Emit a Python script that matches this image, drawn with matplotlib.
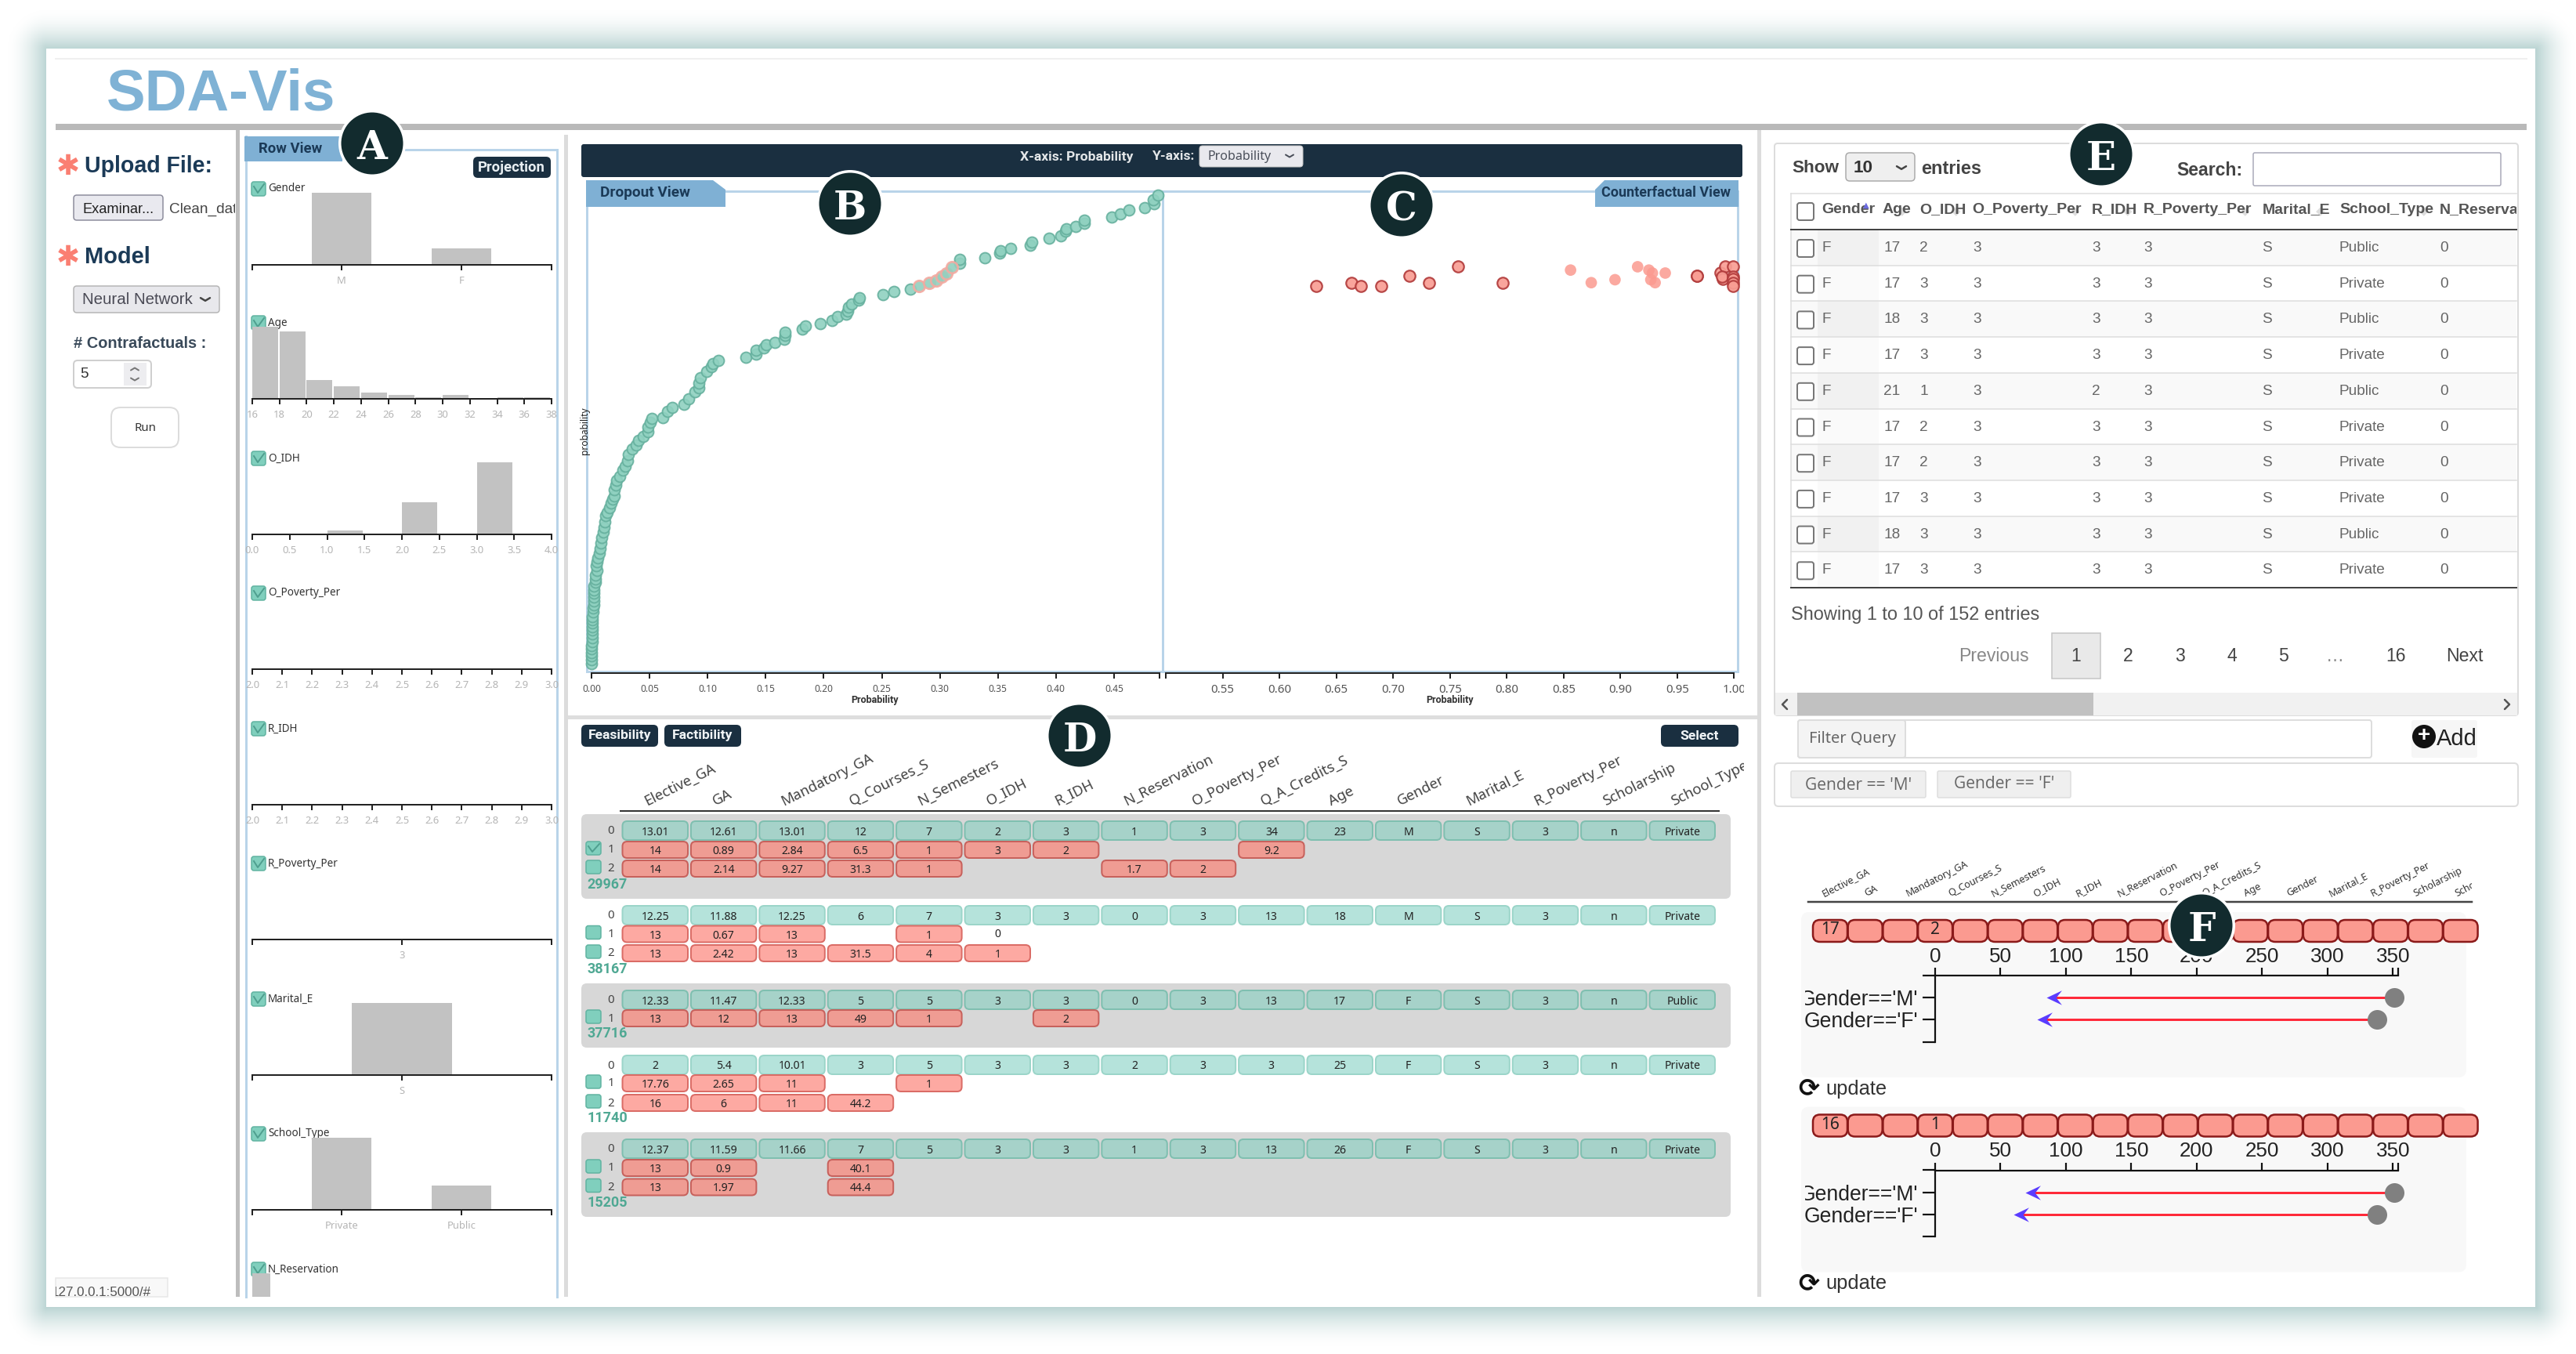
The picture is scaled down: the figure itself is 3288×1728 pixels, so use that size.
import numpy as np
import matplotlib
matplotlib.use("Agg")
import matplotlib.pyplot as plt
from matplotlib.patches import FancyBboxPatch, Circle, Polygon
from matplotlib.path import Path
from matplotlib.transforms import Bbox

# ------------------------------------------------------------ data
gender_labels = ["M", "F"]
gender_counts = [124, 28]
age_edges = [16, 18, 20, 22, 24, 26, 28, 30, 32, 34, 36]
age_counts = [58, 54, 15, 10, 5, 3, 1, 3, 0, 1, 1]
age_ticks = [16, 18, 20, 22, 24, 26, 28, 30, 32, 34, 36, 38]
oidh_edges = [0.0, 0.5, 1.0, 1.5, 2.0, 2.5, 3.0, 3.5]
oidh_counts = [0, 0, 6, 0, 45, 0, 101, 0]
oidh_ticks = [0.0, 0.5, 1.0, 1.5, 2.0, 2.5, 3.0, 3.5, 4.0]
tenth_ticks = [2.0, 2.1, 2.2, 2.3, 2.4, 2.5, 2.6, 2.7, 2.8, 2.9, 3.0]
opoverty_counts = [0, 0, 0, 0, 0, 0, 0, 0, 0, 0]
ridh_counts = [2, 0, 0, 0, 0, 0, 0, 0, 0, 0]
ridh_total = 152
rpoverty_labels = ["3"]
rpoverty_counts = [0]
marital_labels = ["S"]
marital_counts = [152]
school_labels = ["Private", "Public"]
school_counts = [111, 37]
nres_counts = [118]

dropout_x = [0.000, 0.000, 0.000, 0.000, 0.000, 0.000, 0.0007, 0.0007, 0.0007, 0.0007, 0.0007, 0.0007, 0.0007, 0.0007,
             0.0013, 0.0013, 0.0017, 0.0017, 0.0017, 0.002, 0.002, 0.002, 0.0034, 0.0034, 0.0034, 0.0044, 0.004, 0.0044,
             0.0054, 0.0067, 0.0074, 0.0081, 0.0091, 0.0104, 0.0111, 0.0117, 0.0124, 0.0134, 0.0154, 0.0168, 0.0181,
             0.0195, 0.0195, 0.0208, 0.0218, 0.0242, 0.0268, 0.0289, 0.0309, 0.0319, 0.0352, 0.0386, 0.0403, 0.0446,
             0.0487, 0.0487, 0.0503, 0.0517, 0.0611, 0.0654, 0.0695, 0.0799, 0.0839, 0.0893, 0.0923, 0.0923, 0.094,
             0.099, 0.1034, 0.1047, 0.1091, 0.1326, 0.1416, 0.1416, 0.1487, 0.1503, 0.1577, 0.1661, 0.1668, 0.1668,
             0.1812, 0.1839, 0.197, 0.207, 0.2117, 0.2191, 0.2208, 0.2215, 0.2242, 0.2299, 0.2309, 0.2507, 0.2604,
             0.2745, 0.2819, 0.2909, 0.297, 0.3013, 0.3054, 0.3104, 0.3171, 0.3171, 0.3389, 0.3513, 0.3523, 0.3611,
             0.3779, 0.3792, 0.394, 0.404, 0.4084, 0.4087, 0.4171, 0.4245, 0.4242, 0.448, 0.4557, 0.4631, 0.4765,
             0.4842, 0.4839, 0.4876]
dropout_y = [0.000, 0.008, 0.016, 0.024, 0.031, 0.039, 0.047, 0.055, 0.063, 0.071, 0.079, 0.087, 0.094, 0.100,
             0.110, 0.118, 0.126, 0.134, 0.142, 0.150, 0.157, 0.165, 0.173, 0.181, 0.189, 0.198, 0.209, 0.217,
             0.226, 0.236, 0.246, 0.257, 0.268, 0.280, 0.291, 0.303, 0.315, 0.323, 0.333, 0.343, 0.350,
             0.358, 0.370, 0.380, 0.390, 0.399, 0.412, 0.421, 0.433, 0.445, 0.457, 0.465, 0.475, 0.484,
             0.494, 0.504, 0.514, 0.522, 0.525, 0.538, 0.546, 0.553, 0.565, 0.579, 0.588, 0.598, 0.609,
             0.622, 0.632, 0.640, 0.646, 0.652, 0.660, 0.667, 0.673, 0.680, 0.685, 0.692, 0.700, 0.706,
             0.713, 0.719, 0.725, 0.731, 0.739, 0.744, 0.752, 0.760, 0.766, 0.774, 0.780, 0.786, 0.793,
             0.798, 0.805, 0.811, 0.817, 0.824, 0.832, 0.845, 0.853, 0.861, 0.865, 0.874, 0.880, 0.885,
             0.891, 0.899, 0.906, 0.911, 0.921, 0.927, 0.932, 0.939, 0.945, 0.952, 0.959, 0.966, 0.972,
             0.980, 0.988, 0.998]
dropout_ticks = [0.00, 0.05, 0.10, 0.15, 0.20, 0.25, 0.30, 0.35, 0.40, 0.45]
selected_low, selected_high = 0.28, 0.311

cf_dark_x = [0.6323, 0.6635, 0.6714, 0.6892, 0.7142, 0.7313, 0.7574, 0.7965, 0.9672, 0.9672,
             0.9881, 0.9922, 0.9898, 0.9895, 0.9988, 0.9988, 0.9988, 0.9988, 0.9991]
cf_dark_y = [0.8055, 0.812, 0.8055, 0.8055, 0.826, 0.812, 0.846, 0.812, 0.826, 0.826,
             0.8323, 0.8457, 0.8189, 0.8252, 0.8457, 0.8252, 0.8189, 0.811, 0.8055]
cf_light_x = [0.8561, 0.8743, 0.8952, 0.9151, 0.925, 0.9281, 0.9267, 0.9305, 0.9394]
cf_light_y = [0.8386, 0.8118, 0.8181, 0.8457, 0.8386, 0.8323, 0.8181, 0.8118, 0.8323]
cf_ticks = [0.55, 0.60, 0.65, 0.70, 0.75, 0.80, 0.85, 0.90, 0.95, 1.00]

feature_columns = ["Elective_GA", "GA", "Mandatory_GA", "Q_Courses_S", "N_Semesters", "O_IDH", "R_IDH",
                   "N_Reservation", "O_Poverty_Per", "Q_A_Credits_S", "Age", "Gender", "Marital_E",
                   "R_Poverty_Per", "Scholarship", "School_Type"]
group_ids = ["29967", "38167", "37716", "11740", "15205"]
g1 = [["13.01", "12.61", "13.01", "12", "7", "2", "3", "1", "3", "34", "23", "M", "S", "3", "n", "Private"],
      ["14", "0.89", "2.84", "6.5", "1", "3", "2", "", "", "9.2"],
      ["14", "2.14", "9.27", "31.3", "1", "", "", "1.7", "2"]]
g2 = [["12.25", "11.88", "12.25", "6", "7", "3", "3", "0", "3", "13", "18", "M", "S", "3", "n", "Private"],
      ["13", "0.67", "13", "", "1", "0*"],
      ["13", "2.42", "13", "31.5", "4", "1"]]
g3 = [["12.33", "11.47", "12.33", "5", "5", "3", "3", "0", "3", "13", "17", "F", "S", "3", "n", "Public"],
      ["13", "12", "13", "49", "1", "", "2"]]
g4 = [["2", "5.4", "10.01", "3", "5", "3", "3", "2", "3", "3", "25", "F", "S", "3", "n", "Private"],
      ["17.76", "2.65", "11", "", "1"],
      ["16", "6", "11", "44.2"]]
g5 = [["12.37", "11.59", "11.66", "7", "5", "3", "3", "1", "3", "13", "26", "F", "S", "3", "n", "Private"],
      ["13", "0.9", "", "40.1"],
      ["13", "1.97", "", "44.4"]]
groups = [g1, g2, g3, g4, g5]

table_headers = ["Gender", "Age", "O_IDH", "O_Poverty_Per", "R_IDH", "R_Poverty_Per", "Marital_E", "School_Type", "N_Reservation"]
t_gender = ["F"] * 10
t_age = [17, 17, 18, 17, 21, 17, 17, 17, 18, 17]
t_oidh = [2, 3, 3, 3, 1, 2, 2, 3, 3, 3]
t_opov = [3] * 10
t_ridh = [3, 3, 3, 3, 2, 3, 3, 3, 3, 3]
t_rpov = [3] * 10
t_marital = ["S"] * 10
t_school = ["Public", "Private", "Public", "Private", "Public", "Private", "Private", "Private", "Public", "Private"]
t_nres = [0] * 10
pages = ["2", "3", "4", "5", "…", "16"]

query_labels = ["Gender=='M'", "Gender=='F'"]
query_base = [351, 338]
query_tip_1 = [85, 78]
query_tip_2 = [69, 60]
query_ticks = [0, 50, 100, 150, 200, 250, 300, 350]
query_cells_1 = {0: "17", 3: "2"}
query_cells_2 = {0: "16", 3: "1"}

# ------------------------------------------------------------ helpers
W, H = 3288, 1728
fig = plt.figure(figsize=(W / 100, H / 100), dpi=100, facecolor="white")
ui = fig.add_axes([0, 0, 1, 1], zorder=0)
ui.axis("off")

SANS = "Liberation Sans"
UI2 = "Noto Sans"
BOLD2 = "Roboto"
NAVY = "#1a2f40"
TAB = "#7fb0d4"
FRAME = "#b9d4e9"
PX = 0.72


def clipbox(x0, y0, x1, y1):
    return Bbox([[x0, H - y1], [x1, H - y0]])


def R(x0, y0, x1, y1, fc="none", ec="none", lw=0, r=0, z=2, ax=None):
    style = f"round,pad=0,rounding_size={r}" if r else "square,pad=0"
    p = FancyBboxPatch((x0, y0), x1 - x0, y1 - y0, boxstyle=style, fc=fc, ec=ec, lw=lw * PX, zorder=z)
    (ax or ui).add_patch(p)
    return p


def T(x, y, s, px=14, c="#333333", ha="left", va="center", w="normal", f=SANS, rot=0, z=5, clip=None, ax=None, anchor=False):
    t = (ax or ui).text(x, y, s, fontsize=px * PX, color=c, ha=ha, va=va, fontweight=w, family=f, rotation=rot, zorder=z,
                        rotation_mode="anchor" if anchor else "default")
    if clip:
        t.set_clip_on(True)
        t.set_clip_box(clipbox(*clip))
    return t


def chevron(x, y, s=6, c="#444444", lw=2.5, up=False):
    d = -s * 0.6 if up else s * 0.6
    ui.plot([x - s, x, x + s], [y - d / 2, y + d / 2, y - d / 2], color=c, lw=lw * PX, zorder=6, solid_capstyle="round")


def check(x0, y0, x1, y1, ticked=True):
    R(x0, y0, x1, y1, fc="#80cfbd", ec="#5fb3a0", lw=1.5, r=3, z=4)
    if ticked:
        ui.plot([x0 + 3, x0 + 8, x1 - 2], [y0 + 6, y1 - 4, y0 + 3], color="#4f9f8f", lw=1.4, zorder=5)


def pixax(x0, y0, x1, y1, z=3):
    a = fig.add_axes([x0 / W, 1 - y1 / H, (x1 - x0) / W, (y1 - y0) / H], zorder=z)
    a.patch.set_alpha(0)
    return a


# ------------------------------------------------------------ card and shadow
yy, xx = np.mgrid[0:H, 0:W]
dx = np.maximum(np.maximum(59 - xx, xx - 3236), 0)
dy = np.maximum(np.maximum(62 - yy, yy - 1668), 0)
d = np.hypot(dx, dy)
a_s = np.clip(1 - d / 50, 0, 1) ** 1.7
shadow = np.ones((H, W, 3))
for i, v in enumerate((0.735, 0.835, 0.83)):
    shadow[:, :, i] = 1 - a_s * (1 - v)
ui.imshow(shadow, extent=(0, W, H, 0), aspect="auto", zorder=0, interpolation="nearest")
ui.set_xlim(0, W)
ui.set_ylim(H, 0)
R(59, 62, 3236, 1668, fc="white", z=1)

# header
ui.plot([71, 3225], [75, 75], color="#efefef", lw=2 * PX, zorder=2)
R(71, 158, 3225, 166, fc="#b9b9b9")
T(136, 121, "SDA-Vis", 74.5, "#7fb2d5", w="bold")

# separators
R(301, 166, 306, 1655, fc="#bdbdbd")
R(720, 172, 725, 1655, fc="#dcdcdc")
R(2243, 166, 2248, 1655, fc="#dcdcdc")
R(725, 913, 2243, 918, fc="#dedede")

# ------------------------------------------------------------ left controls
for yc in (210, 326):
    T(87, yc + 3, "✱", 36, "#fa7f72", ha="center", w="bold", f="DejaVu Sans")
T(108, 212, "Upload File:", 28.5, "#1b3a57", w="bold")
T(108, 328, "Model", 29, "#1b3a57", w="bold")
R(94, 249, 208, 281, fc="#e9e9ef", ec="#8c8c9c", lw=1.5, r=4)
T(105, 267, "Examinar...", 18.3, "#222222")
T(216, 267, "Clean_data", 19, "#444444", clip=(59, 0, 300, H))
R(94, 365, 280, 399, fc="#e8e8ec", ec="#b5b5b5", lw=1.5, r=4)
T(105, 383, "Neural Network", 20.5, "#4a4a55")
chevron(262, 382, 6)
T(94, 438, "# Contrafactuals :", 20, "#3a4a5a", w="bold")
R(94, 460, 193, 495, fc="white", ec="#cfcfcf", lw=2, r=5)
T(102, 477, "5", 19, "#333333")
R(158, 463, 187, 492, fc="#ededf0")
chevron(172, 471, 5, "#777777", 2, up=True)
chevron(172, 484, 5, "#777777", 2)
R(142, 520, 228, 571, fc="white", ec="#dcdcdc", lw=2, r=12)
T(185, 546, "Run", 15, "#333333", ha="center", f=UI2)
R(71, 1631, 214, 1655, fc="#f8f8f8", ec="#e8e8e8", lw=1.5)
T(66, 1649, "127.0.0.1:5000/#", 17, "#555555", clip=(71, 1631, 214, 1655))

# ------------------------------------------------------------ row view frame
ui.plot([314, 314], [174, 1655], color=FRAME, lw=3 * PX, zorder=2)
ui.plot([711, 711], [191, 1655], color=FRAME, lw=3 * PX, zorder=2)
ui.plot([437, 711], [191, 191], color=FRAME, lw=3 * PX, zorder=2)
R(312, 174, 437, 206, fc=TAB, z=3)
T(330, 190, "Row View", 18.5, "#1b3a57", w="bold", f=BOLD2)
R(604, 200, 703, 227, fc=NAVY, r=6, z=3)
T(653, 214, "Projection", 18.5, "#e8eef2", ha="center", w="bold", f=BOLD2)


def hist_axis(base, label):
    check(321, base - 106, 339, base - 88)
    T(342, base - 97, label, 13.5, "#333333", f=UI2, z=7)
    a = pixax(322, base - 100, 704, base)
    for s in ("top", "left", "right"):
        a.spines[s].set_visible(False)
    a.spines["bottom"].set_linewidth(2 * PX)
    a.spines["bottom"].set_color("#222222")
    a.set_yticks([])
    a.tick_params(axis="x", length=7 * PX, width=2 * PX, color="#222222", labelsize=13 * PX,
                  labelcolor="#b5b5b5", pad=5)
    return a


def hist_cat(base, label, labels, counts, lo, hi, width):
    a = hist_axis(base, label)
    pos = list(range(len(labels)))
    a.bar(pos, counts, width=width, color="#c2c2c2")
    a.set_xlim(lo, hi)
    a.set_ylim(0, max(max(counts), 1) * 100 / 92)
    a.set_xticks([lo] + pos + [hi])
    a.set_xticklabels([""] + labels + [""], family=UI2)


def hist_num(base, label, edges, counts, step, ticks, fmt, top_count=None):
    a = hist_axis(base, label)
    a.bar(edges, counts, width=step * 0.95, align="edge", color="#c2c2c2")
    a.set_xlim(ticks[0], ticks[-1])
    a.set_ylim(0, (top_count or max(max(counts), 1)) * 100 / 92)
    a.set_xticks(ticks)
    a.set_xticklabels([fmt(v) for v in ticks], family=UI2)


hist_cat(338, "Gender", gender_labels, gender_counts, -0.745, 1.752, 0.497)
hist_num(509, "Age", age_edges, age_counts, 2, age_ticks, lambda v: str(v))
hist_num(682, "O_IDH", oidh_edges, oidh_counts, 0.5, oidh_ticks, lambda v: f"{v:.1f}")
hist_num(854, "O_Poverty_Per", tenth_ticks[:-1], opoverty_counts, 0.1, tenth_ticks, lambda v: f"{v:.1f}")
hist_num(1027, "R_IDH", tenth_ticks[:-1], ridh_counts, 0.1, tenth_ticks, lambda v: f"{v:.1f}", top_count=ridh_total)
hist_cat(1199, "R_Poverty_Per", rpoverty_labels, rpoverty_counts, -0.5, 0.5, 0.333)
hist_cat(1372, "Marital_E", marital_labels, marital_counts, -0.5, 0.5, 0.333)
hist_cat(1544, "School_Type", school_labels, school_counts, -0.745, 1.752, 0.497)
# N_Reservation: only the upper part of the plot is inside the scrolled panel
check(321, 1611, 339, 1629)
T(342, 1620, "N_Reservation", 13.5, "#333333", f=UI2, z=7)
a_n = pixax(322, 1617, 704, 1655)
a_n.axis("off")
a_n.bar([0], nres_counts, width=0.95, align="edge", color="#c2c2c2")
a_n.set_xlim(0, 16)
a_n.set_ylim((1717 - 1655) / 92 * nres_counts[0], (1717 - 1617) / 92 * nres_counts[0])

# ------------------------------------------------------------ scatter header
R(742, 184, 2224, 226, fc=NAVY, r=3)
T(1302, 200, "X-axis: Probability", 17.5, "#e3e6e8", w="bold", f=BOLD2)
T(1471, 200, "Y-axis:", 17.5, "#e3e6e8", w="bold", f=BOLD2)
R(1531, 186, 1663, 213, fc="#e9e9ee", ec="#c8c8c8", lw=1, r=4)
T(1541, 200, "Probability", 16, "#4a4f5a", f=UI2)
chevron(1646, 199, 5, "#4a4f5a", 2)

for xs, ys in (([749, 749], [244, 857]), ([1484, 1484], [244, 857]), ([2218, 2218], [244, 857]), ([749, 2218], [244, 244]), ([749, 2218], [857, 857])):
    ui.plot(xs, ys, color=FRAME, lw=3 * PX, zorder=2)

ui.add_patch(Polygon([(748, 230), (910, 230), (926, 242), (926, 264), (748, 264)], fc=TAB, ec="none", zorder=3))
T(766, 246, "Dropout View", 19, "#1b3a57", w="bold", f=BOLD2)
ui.add_patch(Polygon([(2048, 230), (2219, 230), (2219, 264), (2036, 264), (2036, 242)], fc=TAB, ec="none", zorder=3))
T(2044, 246, "Counterfactual View", 18, "#1b3a57", w="bold", f=BOLD2)


def scatter_axis(x0, x1, lo, hi, ticks, label_px, end_lo=None, end_hi=None):
    a = pixax(x0, 244, x1, 859)
    a.set_xlim(lo, hi)
    a.set_ylim(-0.02, 1.0067)
    for s in ("top", "left", "right"):
        a.spines[s].set_visible(False)
    a.spines["bottom"].set_linewidth(2 * PX)
    a.spines["bottom"].set_color("#222222")
    a.spines["bottom"].set_bounds(end_lo, end_hi)
    a.set_yticks([])
    tk = list(ticks)
    for e in (end_lo, end_hi):
        if e not in tk:
            tk.append(e)
    a.set_xticks(tk)
    a.set_xticklabels([f"{v:.2f}" if v in ticks else "" for v in tk], family=UI2)
    a.tick_params(axis="x", length=7 * PX, width=2 * PX, color="#222222", labelsize=label_px * PX, labelcolor="#555555", pad=5)
    for t in a.get_xticklabels():
        t.set_clip_on(True)
        t.set_clip_box(clipbox(725, 860, 2226, 900))
    return a


a_d = scatter_axis(749, 1484, -0.00405, 0.4919, dropout_ticks, 12, 0.0, 0.489)
dx_arr, dy_arr = np.array(dropout_x), np.array(dropout_y)
sel = (dx_arr > selected_low) & (dx_arr < selected_high)
a_d.scatter(dx_arr[~sel], dy_arr[~sel], s=100, c="#8fd1c0", edgecolors="#66b09e", linewidths=1.4, alpha=0.9, clip_on=False, zorder=3)
a_d.scatter(dx_arr[sel], dy_arr[sel], s=108, c="#93d0bf", edgecolors="#f4aaa1", linewidths=2, alpha=0.9, clip_on=False, zorder=4)
T(746, 550, "probability", 12, "#222222", ha="center", rot=90, f=UI2, z=6)
T(1116, 894, "Probability", 12.5, "#333333", ha="center", w="bold", f=BOLD2)

a_c = scatter_axis(1488, 2222, 0.5, 1.0059, cf_ticks, 15, 0.5, 1.0)
a_c.scatter(cf_light_x, cf_light_y, s=112, c="#fb9a90", edgecolors="none", alpha=0.85, clip_on=False, zorder=3)
a_c.scatter(cf_dark_x, cf_dark_y, s=108, c="#f99e94", edgecolors="#b23c3c", linewidths=1.6, alpha=0.92, clip_on=False, zorder=4)
T(1850, 894, "Probability", 12.5, "#333333", ha="center", w="bold", f=BOLD2)

# ------------------------------------------------------------ feature table (D)
for x0, x1, s in ((742, 840, "Feasibility"), (848, 946, "Factibility"), (2120, 2219, "Select")):
    R(x0, 925, x1, 953, fc=NAVY, r=6)
    T((x0 + x1) / 2, 939, s, 17.5, "#f0f4f6", ha="center", w="bold", f=BOLD2)
ui.plot([792, 2194], [1035, 1035], color="#333333", lw=2 * PX, zorder=3)
COL0, STEP, CW = 794.5, 87.4, 83.5
for i, name in enumerate(feature_columns):
    T(COL0 + i * STEP + 31, 1028, name, 18.5, "#444444", va="baseline", rot=26.5, f=UI2, anchor=True, clip=(725, 920, 2226, 1040))

# top of row 0, row 1, row 2 and of the id label, per group
R(742, 1039, 2209, 1147, fc="#d7d7d7", r=7)
R(742, 1255, 2209, 1337, fc="#d7d7d7", r=7)
R(742, 1445, 2209, 1553, fc="#d7d7d7", r=7)
row_tops = [(1048, 1074, 1098), (1156, 1181.5, 1206), (1264, 1289), (1347, 1372, 1397), (1454, 1480, 1504.5)]
id_y = [1129, 1237, 1319, 1427, 1535]
for g, (rows, tops) in enumerate(zip(groups, row_tops)):
    grey = g % 2 == 0
    teal_f, teal_e = ("#a6d2c9", "#7fbfb0") if grey else ("#b5e3db", "#9bd5c9")
    red_f, red_e = ("#ef9c93", "#c7615c") if grey else ("#fda9a2", "#da6c66")
    for r_i, (cells, top) in enumerate(zip(rows, tops)):
        h = 24 if r_i == 0 else 21
        T(780, top + (13 if r_i == 0 else 11), str(r_i), 15, "#444444", ha="center", f=UI2)
        if r_i > 0:
            check(748, top, 767, top + 17, ticked=(g == 0 and r_i == 1))
        for c_i, val in enumerate(cells):
            if val == "":
                continue
            cx = COL0 + c_i * STEP
            if val.endswith("*"):
                T(cx + CW / 2, top + h / 2 + 0.5, val[:-1], 14, "#222222", ha="center", f=UI2)
                continue
            fc, ec = (teal_f, teal_e) if r_i == 0 else (red_f, red_e)
            R(cx, top, cx + CW, top + h, fc=fc, ec=ec, lw=2, r=6, z=3)
            T(cx + CW / 2, top + h / 2 + 2, val, 14, "#222222", ha="center", f=UI2)
    T(749, id_y[g], group_ids[g], 18, "#4fa893", w="bold", f=BOLD2)

# ------------------------------------------------------------ data table (E)
R(2265, 183, 3214, 913, fc="white", ec="#dcdcdc", lw=2, r=4)
T(2287, 215, "Show", 22.5, "#444444", w="bold")
R(2356, 195, 2444, 231, fc="#efefef", ec="#aaaaaa", lw=1.5, r=5)
T(2366, 215, "10", 22.5, "#333333", w="bold")
chevron(2427, 214, 6)
T(2452, 215, "entries", 23.5, "#444444", w="bold")
T(2778, 217, "Search:", 23, "#444444", w="bold")
R(2876, 195, 3192, 237, fc="white", ec="#a8a8b8", lw=1.5, r=2)

ui.plot([2286, 3212], [247, 247], color="#dddddd", lw=1.5 * PX, zorder=3)
ui.plot([2286, 2286], [247, 750], color="#dddddd", lw=1.5 * PX, zorder=3)
head_x = [2325, 2403, 2450, 2517.5, 2670, 2736, 2887.5, 2986, 3114]
for x in (2428, 2497, 2649, 2716, 2866, 2962, 3094):
    T(x, 270, "◆", 15, "#dddddd", ha="center", f="DejaVu Sans", z=4)
for x, s in zip(head_x, table_headers):
    T(x, 268, s, 19.5, "#555555", w="bold", clip=(2286, 247, 3212, 293))
T(2382, 262, "▲", 10, "#6a6ae0", ha="center", f="DejaVu Sans", z=6)
R(2294, 259, 2315, 281, fc="white", ec="#777777", lw=2, r=3, z=4)
ui.plot([2286, 3212], [293, 293], color="#444444", lw=2 * PX, zorder=3)
table_cols = [t_gender, t_age, t_oidh, t_opov, t_ridh, t_rpov, t_marital, t_school, t_nres]
cell_x = [2325, 2404, 2450, 2518, 2670, 2736, 2887, 2985, 3114]
for r_i in range(10):
    y0 = 293 + r_i * 45.7
    y1 = y0 + 45.7
    if r_i % 2 == 0:
        R(2286, y0, 3212, y1, fc="#f9f9f9", z=2)
    R(2320, y0, 2398, y1, fc="#f1f1f1" if r_i % 2 == 0 else "#fafafa", z=2)
    if r_i < 9:
        ui.plot([2286, 3212], [y1, y1], color="#dddddd", lw=1.5 * PX, zorder=3)
    yc = y0 + 22
    R(2294, yc - 9, 2315, yc + 13, fc="white", ec="#777777", lw=2, r=3, z=4)
    for x, col in zip(cell_x, table_cols):
        T(x, yc + 1.5, str(col[r_i]), 19, "#666666")
ui.plot([2286, 3212], [750, 750], color="#444444", lw=2 * PX, zorder=3)

T(2286, 785, "Showing 1 to 10 of 152 entries", 23.5, "#555555")
T(2545, 838, "Previous", 23, "#888888", ha="center")
R(2619, 808, 2681, 866, fc="#e9e9e9", ec="#c4c4c4", lw=1.5)
T(2650, 838, "1", 23, "#444444", ha="center")
for x, s in zip((2716, 2782, 2849, 2915, 2980, 3057.5), pages):
    T(x, 838, s, 23, "#444444" if s != "…" else "#888888", ha="center")
T(3146, 838, "Next", 23, "#444444", ha="center")
R(2266, 884, 3213, 913, fc="#f1f1f1", z=3)
R(2294, 884, 2672, 913, fc="#c1c1c1", z=4)
chevron(2278, 899, 4.5, "#555555", 2.5)
ui.lines[-1].set_data([2281, 2275, 2281], [893, 899, 905])
chevron(3200, 899, 4.5, "#555555", 2.5)
ui.lines[-1].set_data([3197, 3203, 3197], [893, 899, 905])

R(2295, 919, 3027, 967, fc="white", ec="#dddddd", lw=2, r=3)
R(2295, 919, 2432, 967, fc="#f4f4f4", ec="#dddddd", lw=2, r=3, z=3)
T(2364, 943, "Filter Query", 20, "#666666", ha="center", f=UI2)
R(3078, 919, 3162, 967, fc="#f6f6f6", r=3)
ui.add_patch(Circle((3094, 940), 15, fc="#111111", ec="none", zorder=4))
T(3094, 939, "+", 28, "white", ha="center", w="bold", f=SANS, z=5)
T(3110, 943, "Add", 29, "#222222")
R(2265, 974, 3214, 1029, fc="white", ec="#dddddd", lw=2, r=5)
R(2286, 984, 2458, 1018, fc="#efefef", ec="#dddddd", lw=1.5, r=2, z=3)
T(2372, 1002, "Gender == 'M'", 21, "#666666", ha="center", f="Open Sans")
R(2473, 984, 2643, 1018, fc="#efefef", ec="#dddddd", lw=1.5, r=2, z=3)
T(2558, 1000, "Gender == 'F'", 21, "#666666", ha="center", f="Open Sans")

# ------------------------------------------------------------ what-if panels (F)
ui.plot([2308, 3155], [1150.5, 1150.5], color="#444444", lw=2.5 * PX, zorder=3)
F0, FSTEP = 2328, 53.9
for i, name in enumerate(feature_columns):
    T(F0 + i * FSTEP, 1144, name, 12.5, "#333333", va="baseline", rot=27, f=UI2, anchor=True, clip=(2290, 1090, 3155, 1150))

# arrow head whose tip sits on the plotted value
head_marker = Path([(0, 0), (2, 0.95), (1.25, 0), (2, -0.95), (0, 0)],
                   [Path.MOVETO, Path.LINETO, Path.LINETO, Path.LINETO, Path.CLOSEPOLY])


def query_panel(shift, cells, tips):
    R(2299, 1164 + shift, 3148, 1375 + shift, fc="#f8f8f8", r=10)
    for i in range(19):
        x = 2314 + i * 44.7
        R(x, 1174 + shift, x + 44, 1202 + shift, fc="#fb9a90", ec="#8b1a1a", lw=2.5, r=9, z=3)
        if i in cells:
            T(x + 22, 1187 + shift, cells[i], 21, "#222222", ha="center", f=UI2, z=4)
    a = pixax(2470, 1245 + shift, 3061, 1330 + shift, z=3)
    a.set_xlim(0, 354)
    a.set_ylim(2.02, -1)
    for s in ("bottom", "right"):
        a.spines[s].set_visible(False)
    for s in ("top", "left"):
        a.spines[s].set_linewidth(2.2 * PX)
        a.spines[s].set_color("#111111")
    a.xaxis.tick_top()
    a.set_xticks(query_ticks + [354])
    a.set_xticklabels([str(v) for v in query_ticks] + [""], family=SANS)
    a.set_yticks([-1, 0, 1, 2.02])
    a.set_yticklabels(["", *query_labels, ""], family=SANS)
    a.tick_params(axis="x", length=10 * PX, width=2.2 * PX, color="#111111", labelsize=26 * PX, labelcolor="#222222", pad=1.5)
    a.tick_params(axis="y", length=16 * PX, width=2.2 * PX, color="#111111", labelsize=26.5 * PX, labelcolor="#222222", pad=4)
    for t in a.get_yticklabels():
        t.set_clip_on(True)
        t.set_clip_box(clipbox(2304, 1164 + shift, 3148, 1375 + shift))
    for yi, (b, tip) in enumerate(zip(query_base, tips)):
        a.plot([tip + 6, b], [yi, yi], color="#ff2a3a", lw=3 * PX, zorder=3, clip_on=False)
        a.plot([tip], [yi], marker=head_marker, ms=28, color="#5a3cff", mec="none", zorder=4, clip_on=False)
        a.plot([b], [yi], marker="o", ms=18, color="#808080", mec="none", zorder=5, clip_on=False)
    T(2309, 1390 + shift, "⟳", 32, "#111111", ha="center", w="bold", f="DejaVu Sans")
    T(2330, 1390 + shift, "update", 25.5, "#333333")


query_panel(0, query_cells_1, query_tip_1)
query_panel(248.5, query_cells_2, query_tip_2)

# ------------------------------------------------------------ view badges
top = fig.add_axes([0, 0, 1, 1], zorder=20)
top.axis("off")
top.set_xlim(0, W)
top.set_ylim(H, 0)
for letter, cx, cy in (("A", 475, 183), ("B", 1085, 260), ("C", 1789, 262), ("D", 1378, 939), ("E", 2682, 197), ("F", 2810, 1181)):
    top.add_patch(Circle((cx, cy), 43, fc="white", ec="none", zorder=1))
    top.add_patch(Circle((cx, cy), 39.5, fc="#122b2e", ec="none", zorder=2))
    T(cx, cy + 1, letter, 50, "white", ha="center", va="center_baseline", w="bold", f="DejaVu Serif", z=3, ax=top)

fig.savefig("out.png", dpi=100, facecolor="white")
